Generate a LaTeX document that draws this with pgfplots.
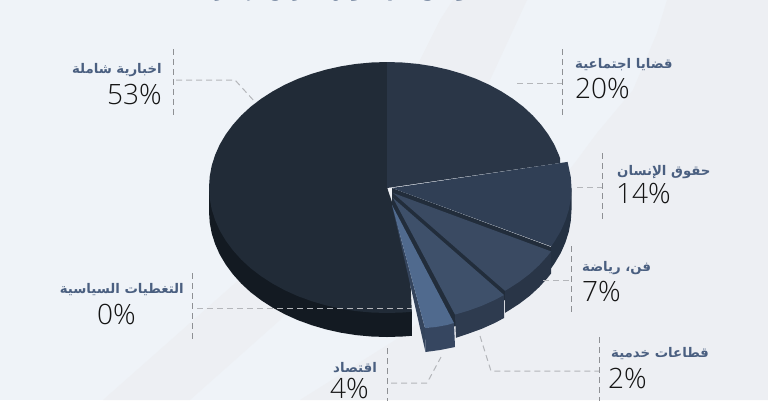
\documentclass[border=0pt]{standalone}
\usepackage{fontspec}
\usepackage{pgfplots}
\pgfplotsset{compat=1.18}
\TeXXeTstate=1
\newfontfamily\arabicfont[Script=Arabic,BoldFont={DejaVu Sans Bold}]{DejaVu Sans}
\newfontfamily\numfont[UprightFont={* Light}]{Open Sans}
\definecolor{bgA}{HTML}{EFF3F8}
\definecolor{bgB}{HTML}{EDEFF3}
\definecolor{lab}{HTML}{4A5F80}
\definecolor{numc}{HTML}{151515}
\definecolor{ldr}{HTML}{B4B6BA}
\definecolor{vln}{HTML}{8E9094}
\definecolor{cA}{HTML}{131A22}
\definecolor{cB}{HTML}{212B37}
\definecolor{cC}{HTML}{2A3647}
\definecolor{cD}{HTML}{222D3B}
\definecolor{cE}{HTML}{243142}
\definecolor{cF}{HTML}{303F55}
\definecolor{cG}{HTML}{293547}
\definecolor{cH}{HTML}{3A4A62}
\definecolor{cI}{HTML}{2E3B4F}
\definecolor{cJ}{HTML}{3E506A}
\definecolor{cK}{HTML}{34445C}
\definecolor{cL}{HTML}{364660}
\definecolor{cM}{HTML}{506A8E}
\newcommand{\alab}[1]{{\arabicfont\bfseries\fontsize{13.3}{14}\selectfont\color{lab}\beginR #1\endR}}
\newcommand{\nlab}[1]{{\numfont\fontsize{28}{28}\selectfont\color{numc}#1}}
\pgfplotsset{
  face/.style={draw=none,fill=#1,mark=none,forget plot},
  lead/.style={draw=ldr,line width=1pt,dash pattern=on 6pt off 4pt,mark=none,forget plot},
  vert/.style={draw=vln,line width=0.8pt,dash pattern=on 6pt off 4pt,mark=none,forget plot}
}
\begin{document}
\begin{tikzpicture}
\begin{axis}[at={(0pt,0pt)},anchor=south west,width=768pt,height=400pt,scale only axis,
  xmin=0,xmax=768,ymin=0,ymax=400,y dir=reverse,hide axis,clip=true]
% background
\addplot[face=bgA] coordinates {(0,0)(768,0)(768,400)(0,400)} --cycle;
\addplot[face=bgB] coordinates {(453,0)(527,0)(490,80)(440,150)(360,235)(280,320)(190,400)(103,400)(233,285)(330,190)(400,100)(440,20)} --cycle;
\addplot[face=bgB] coordinates {(667,0)(768,0)(768,400)(300,400)(400,337)(500,260)(577,160)(597,133)(633,90)(657,33)} --cycle;
% 53% side
\addplot[face=cA] coordinates {(209,187.5)(209,211.5)(209.7,222.4)(211.7,233.3)(215.1,244)(219.7,254.4)(225.7,264.5)(232.9,274.25)(241.2,283.5)(250.6,292.2)(261.1,300.2)(272.6,307.6)(284.9,314.3)(298,320.2)(311.8,325.2)(326.1,329.4)(340.9,332.7)(356.1,335.1)(371.5,336.5)(387,337)(402.5,336.5)(411.8,335.8)(411.8,311.8)(387,187.5)} --cycle;
% 53% top
\addplot[face=cB] coordinates {(387,187.5)(387,62)(371.5,62.5)(356.1,63.9)(340.9,66.3)(326.1,69.6)(311.8,73.8)(298,78.8)(284.9,84.7)(272.6,91.4)(261.1,98.8)(250.6,106.8)(241.2,115.5)(232.9,124.75)(225.7,134.5)(219.7,144.6)(215.1,155)(211.7,165.7)(209.7,176.6)(209,187.5)(209.7,198.4)(211.7,209.3)(215.1,220)(219.7,230.4)(225.7,240.5)(232.9,250.25)(241.2,259.5)(250.6,268.2)(261.1,276.2)(272.6,283.6)(284.9,290.3)(298,296.2)(311.8,301.2)(326.1,305.4)(340.9,308.7)(356.1,311.1)(371.5,312.5)(387,313)(402.5,312.5)(411.8,311.8)(410.5,283)(393,205)} --cycle;
% 20% top
\addplot[face=cC] coordinates {(387,188)(387,62)(402.5,62.5)(417.9,63.9)(433.1,66.3)(447.9,69.6)(462.2,73.8)(476,78.8)(489.1,84.7)(501.4,91.4)(512.9,98.8)(523.4,106.8)(532.8,115.5)(541.1,124.75)(548.3,134.5)(554.3,144.6)(558.9,155)(560,158)(560,163)} --cycle;
% dark gaps between the slices
\addplot[face=cD] coordinates {(392,188)(551.1,247)(551.1,255)(505,296)(505,300)(456,318)(456,326)(430,332)(392,205)} --cycle;
% 14%
\addplot[face=cE] coordinates {(571.5,188)(571.5,210)(570.8,220.9)(568.8,231.8)(565.4,242.5)(560.8,252.9)(554.8,263)(551.1,268.4)(551.1,246.4)} --cycle;
\addplot[face=cF] coordinates {(392,188)(567.6,161.9)(570.8,177.1)(571.5,188)(570.8,198.9)(568.8,209.8)(565.4,220.5)(560.8,230.9)(554.8,241)(551.1,246.4)} --cycle;
% 7%
\addplot[face=cG] coordinates {(551.1,251.4)(551.1,273.4)(547.7,277.75)(539.3,287)(529.9,295.7)(519.4,303.7)(507.9,311.1)(505,312.8)(505,290.8)} --cycle;
\addplot[face=cH] coordinates {(393,193)(551.1,251.4)(547.7,255.75)(539.3,265)(529.9,273.7)(519.4,281.7)(507.9,289.1)(505,290.8)} --cycle;
% 2%
\addplot[face=cI] coordinates {(504,295)(504,318)(495.1,322.8)(482,328.7)(468.2,333.7)(456,337.8)(455,314.6)} --cycle;
\addplot[face=cJ] coordinates {(393,198)(504,295)(495.1,299.8)(482,305.7)(468.2,310.7)(455,314.6)} --cycle;
% 4%
\addplot[face=cK] coordinates {(392,205)(425,328)(425.5,352)} --cycle;
\addplot[face=cL] coordinates {(425,328)(440,326)(454,323)(455,347)(440,350)(425.5,352)} --cycle;
\addplot[face=cM] coordinates {(392,205)(454,323)(447,325)(436,327)(425,328)} --cycle;
% vertical rules
\addplot[vert] coordinates {(173,49)(173,115)};
\addplot[vert] coordinates {(562,49)(562,115)};
\addplot[vert] coordinates {(602,153)(602,219)};
\addplot[vert] coordinates {(571,246)(571,312)};
\addplot[vert] coordinates {(599,337)(599,403)};
\addplot[vert] coordinates {(387,348)(387,403)};
\addplot[vert] coordinates {(192,273)(192,340)};
% leaders
\addplot[lead] coordinates {(176,80)(235,80)(255,102)};
\addplot[lead] coordinates {(517,83)(562,83)};
\addplot[lead] coordinates {(577,187)(602,187)};
\addplot[lead] coordinates {(543,280)(571,280)};
\addplot[lead] coordinates {(480,336)(491,371)(599,371)};
\addplot[lead] coordinates {(391,383)(427,383)(441,357)};
\addplot[lead] coordinates {(197,308)(412,308)};
% labels
\node[anchor=east,inner sep=0pt] at (axis cs:162,70) {\alab{اخبارية شاملة}};
\node[anchor=east,inner sep=0pt] at (axis cs:162,94.5) {\nlab{53\%}};
\node[anchor=west,inner sep=0pt] at (axis cs:575,65) {\alab{قضايا اجتماعية}};
\node[anchor=west,inner sep=0pt] at (axis cs:575,89) {\nlab{20\%}};
\node[anchor=west,inner sep=0pt] at (axis cs:617,172) {\alab{حقوق الإنسان}};
\node[anchor=west,inner sep=0pt] at (axis cs:616,193.5) {\nlab{14\%}};
\node[anchor=west,inner sep=0pt] at (axis cs:582,268) {\alab{فن، رياضة}};
\node[anchor=west,inner sep=0pt] at (axis cs:582,292) {\nlab{7\%}};
\node[anchor=west,inner sep=0pt] at (axis cs:611,354) {\alab{قطاعات خدمية}};
\node[anchor=west,inner sep=0pt] at (axis cs:608,379) {\nlab{2\%}};
\node[anchor=west,inner sep=0pt] at (axis cs:333,368) {\alab{اقتصاد}};
\node[anchor=west,inner sep=0pt] at (axis cs:330,388.5) {\nlab{4\%}};
\node[anchor=east,inner sep=0pt] at (axis cs:184,289.5) {\alab{التغطيات السياسية}};
\node[anchor=west,inner sep=0pt] at (axis cs:97,314) {\nlab{0\%}};
% cropped title
\node[anchor=base,inner sep=0pt] at (axis cs:344,-3) {{\arabicfont\bfseries\fontsize{15}{15}\selectfont\color{lab}\beginR المواضيع التي تناولتها البرامج الإخبارية\endR}};
\end{axis}
\pgfresetboundingbox
\path[use as bounding box] (0pt,0pt) rectangle (768pt,400pt);
\end{tikzpicture}
\end{document}
